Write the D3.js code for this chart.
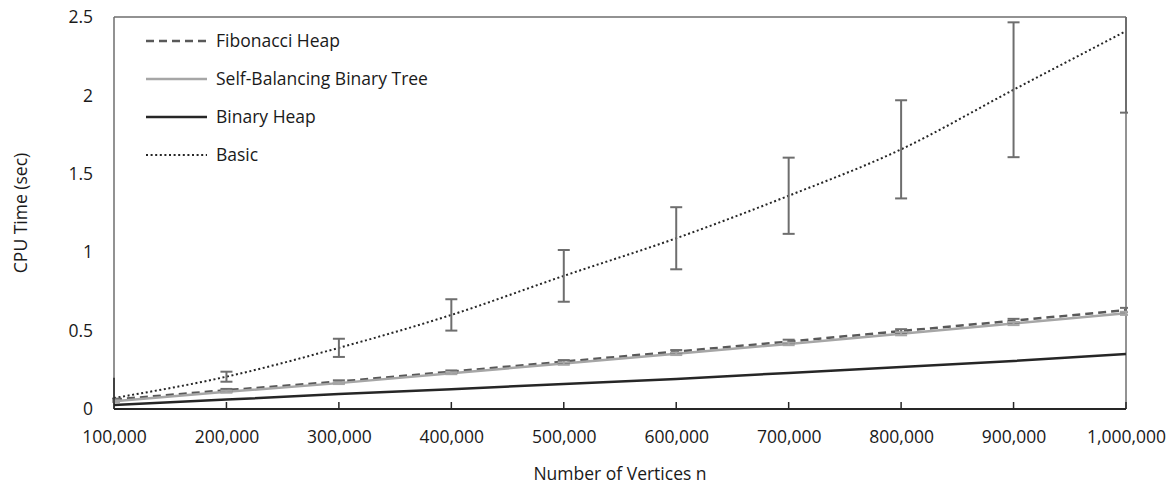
<!DOCTYPE html>
<html>
<head>
<meta charset="utf-8">
<script src="https://cdn.jsdelivr.net/npm/d3@7"></script>
<style>
  body { margin: 0; background: #fff; }
  text { font-family: "Open Sans", sans-serif; fill: #1a1a1a; }
</style>
</head>
<body>
<div id="chart"></div>
<script>
// Data
var vertices = [100000, 200000, 300000, 400000, 500000, 600000, 700000, 800000, 900000, 1000000];
var fibonacci = [0.06, 0.12, 0.175, 0.238, 0.302, 0.366, 0.43, 0.497, 0.563, 0.631];
var fibonacciErr = [0.006, 0.008, 0.008, 0.008, 0.01, 0.01, 0.012, 0.012, 0.012, 0.014];
var selfBalancing = [0.05, 0.11, 0.165, 0.228, 0.29, 0.352, 0.415, 0.48, 0.545, 0.61];
var selfBalancingErr = [0.005, 0.006, 0.006, 0.006, 0.008, 0.008, 0.008, 0.01, 0.01, 0.01];
var binaryHeap = [0.025, 0.06, 0.095, 0.126, 0.16, 0.192, 0.23, 0.268, 0.306, 0.351];
var basic = [0.07, 0.206, 0.39, 0.60, 0.849, 1.089, 1.36, 1.656, 2.036, 2.41];
var basicErr = [0, 0.032, 0.058, 0.10, 0.165, 0.198, 0.243, 0.313, 0.43, 0.52];
var yTicks = [0, 0.5, 1, 1.5, 2, 2.5];
var legendNames = ['Fibonacci Heap', 'Self-Balancing Binary Tree', 'Binary Heap', 'Basic'];

var width = 1175;
var height = 487;
var margin = {top: 17, right: 49, bottom: 78, left: 114};
var plotW = width - margin.left - margin.right;
var plotH = height - margin.top - margin.bottom;

var svg = d3.select('#chart').append('svg')
  .attr('width', width)
  .attr('height', height);

var x = d3.scaleLinear().domain([100000, 1000000]).range([0, plotW]);
var y = d3.scaleLinear().domain([0, 2.5]).range([plotH, 0]);

var g = svg.append('g')
  .attr('transform', 'translate(' + margin.left + ',' + margin.top + ')');

g.append('clipPath').attr('id', 'clip')
  .append('rect').attr('x', -2).attr('y', 0).attr('width', plotW + 4).attr('height', plotH);

// frame
g.append('line').attr('x1', 0).attr('x2', plotW).attr('y1', 0).attr('y2', 0)
  .attr('stroke', '#6e6e6e').attr('stroke-width', 1.5);
g.append('line').attr('x1', 0).attr('x2', 0).attr('y1', 0).attr('y2', plotH)
  .attr('stroke', '#6e6e6e').attr('stroke-width', 1.5);
g.append('line').attr('x1', plotW).attr('x2', plotW).attr('y1', 0).attr('y2', plotH)
  .attr('stroke', '#262626').attr('stroke-width', 1);

var series = [
  {name: legendNames[0], vals: fibonacci, err: fibonacciErr, color: '#595959', width: 2.5, dash: '8,5', errColor: '#6e6e6e'},
  {name: legendNames[1], vals: selfBalancing, err: selfBalancingErr, color: '#a6a6a6', width: 2.5, dash: null, errColor: '#a6a6a6'},
  {name: legendNames[2], vals: binaryHeap, err: null, color: '#262626', width: 2.5, dash: null},
  {name: legendNames[3], vals: basic, err: basicErr, color: '#262626', width: 2, dash: '2,2.6', errColor: '#6e6e6e', curve: true}
];

var plot = g.append('g').attr('clip-path', 'url(#clip)');

series.forEach(function(s) {
  var line = d3.line()
    .x(function(d, i) { return x(vertices[i]); })
    .y(function(d) { return y(d); })
    .curve(s.curve ? d3.curveMonotoneX : d3.curveLinear);
  plot.append('path')
    .datum(s.vals)
    .attr('fill', 'none')
    .attr('stroke', s.color)
    .attr('stroke-width', s.width)
    .attr('stroke-dasharray', s.dash)
    .attr('d', line);
});

// error bars
series.forEach(function(s) {
  if (!s.err) return;
  var bars = plot.append('g').selectAll('g')
    .data(s.vals.map(function(v, i) { return {x: vertices[i], v: v, e: s.err[i]}; }).filter(function(d) { return d.e > 0; }))
    .enter().append('g')
    .attr('stroke', s.errColor)
    .attr('stroke-width', 2);
  bars.append('line')
    .attr('x1', function(d) { return x(d.x); })
    .attr('x2', function(d) { return x(d.x); })
    .attr('y1', function(d) { return y(d.v - d.e); })
    .attr('y2', function(d) { return y(d.v + d.e); });
  [-1, 1].forEach(function(sign) {
    bars.append('line')
      .attr('x1', function(d) { return x(d.x) - 6; })
      .attr('x2', function(d) { return x(d.x) + 6; })
      .attr('y1', function(d) { return y(d.v + sign * d.e); })
      .attr('y2', function(d) { return y(d.v + sign * d.e); });
  });
});

// x axis
var xAxis = d3.axisBottom(x)
  .tickValues(vertices)
  .tickSize(0)
  .tickPadding(22)
  .tickFormat(d3.format(','));
var xg = g.append('g')
  .attr('transform', 'translate(0,' + plotH + ')')
  .call(xAxis);
xg.select('.domain').remove();
xg.selectAll('text').style('font-size', '17.5px').style('fill', '#1a1a1a');
g.append('line').attr('x1', 0).attr('x2', plotW).attr('y1', plotH).attr('y2', plotH)
  .attr('stroke', '#262626').attr('stroke-width', 2);
g.append('line').attr('x1', 0).attr('x2', 0).attr('y1', y(0.2)).attr('y2', plotH)
  .attr('stroke', '#262626').attr('stroke-width', 1.5);
g.append('g').selectAll('line')
  .data(vertices.slice(1))
  .enter().append('line')
  .attr('x1', function(d) { return x(d); })
  .attr('x2', function(d) { return x(d); })
  .attr('y1', plotH)
  .attr('y2', plotH - 7)
  .attr('stroke', '#262626')
  .attr('stroke-width', 1.5);

// y axis
var yAxis = d3.axisLeft(y)
  .tickValues(yTicks)
  .tickSize(0)
  .tickPadding(21)
  .tickFormat(function(d) { return d; });
var yg = g.append('g').call(yAxis);
yg.select('.domain').remove();
yg.selectAll('text').style('font-size', '17.5px').style('fill', '#1a1a1a');

// axis titles
svg.append('text')
  .attr('x', margin.left + plotW / 2)
  .attr('y', 480)
  .attr('text-anchor', 'middle')
  .style('font-size', '17.5px')
  .text('Number of Vertices n');
svg.append('text')
  .attr('transform', 'translate(27,' + (margin.top + plotH / 2) + ') rotate(-90)')
  .attr('text-anchor', 'middle')
  .style('font-size', '17.5px')
  .text('CPU Time (sec)');

// legend
var legend = svg.append('g');
var rows = legend.selectAll('g')
  .data(series)
  .enter().append('g')
  .attr('transform', function(d, i) { return 'translate(146,' + (41 + i * 38) + ')'; });
rows.append('line')
  .attr('x1', 0).attr('x2', 61)
  .attr('stroke', function(d) { return d.color; })
  .attr('stroke-width', function(d) { return d.width; })
  .attr('stroke-dasharray', function(d) { return d.dash; });
rows.append('text')
  .attr('x', 70)
  .attr('dy', '0.35em')
  .style('font-size', '17.5px')
  .text(function(d) { return d.name; });
</script>
</body>
</html>
